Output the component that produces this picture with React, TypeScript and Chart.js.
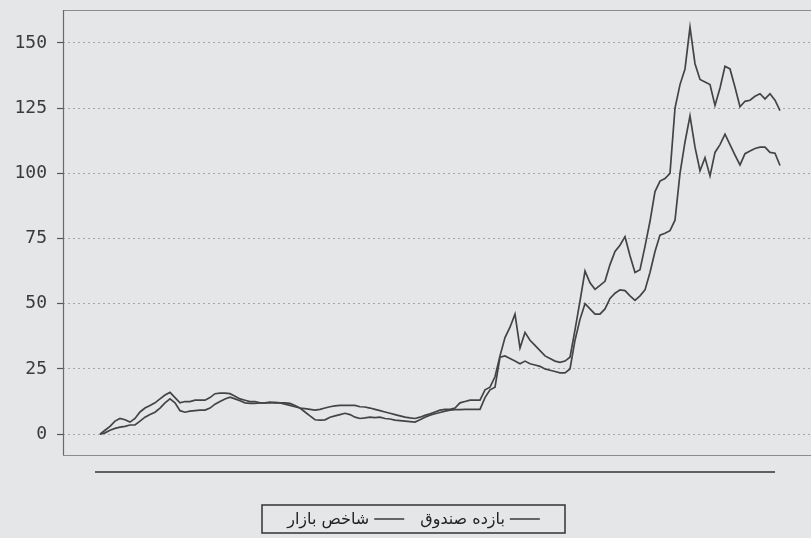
import React, { useEffect, useRef } from "react";
import { Chart, registerables } from "chart.js";

Chart.register(...registerables);

// Trading-day index (x), equally spaced
const days: number[] = Array.from({ length: 137 }, (_, i) => i);

// Series (percent)
const fundReturn: number[] = [
  0, 1.5, 3, 5, 6, 5.5, 4.6, 6, 8.5, 10,
  11, 12, 13.5, 15, 16, 14, 12, 12.5, 12.5, 13,
  13, 13, 14, 15.5, 15.7, 15.7, 15.5, 14.5, 13.5, 13,
  12.5, 12.5, 12, 12, 12.3, 12, 12, 12, 11.8, 11,
  10, 9.8, 9.5, 9.2, 9.5, 10, 10.5, 10.8, 11, 11,
  11, 11, 10.5, 10.4, 10, 9.5, 9, 8.5, 8, 7.5,
  7, 6.5, 6.2, 6, 6.5, 7.2, 7.8, 8.5, 9.2, 9.5,
  9.5, 10, 12, 12.5, 13, 13, 13, 17, 18, 22,
  30, 37, 41, 46, 33, 39, 36, 34, 32, 30,
  29, 28, 27.5, 28, 29.5, 40, 51, 62.5, 58, 55.5,
  57, 58.6, 65, 70, 72.4, 75.7, 68.4, 62, 63, 72,
  81.6, 93, 97, 98, 100, 125, 134, 140, 156, 142,
  136, 135, 134, 126, 132.7, 141, 140, 133, 125.5, 127.6,
  128, 129.5, 130.5, 128.5, 130.5, 128, 124,
];

const marketIndex: number[] = [
  0, 0.5, 1.5, 2.2, 2.7, 3, 3.5, 3.5, 5, 6.5,
  7.5, 8.4, 10, 12, 13.5, 12, 9, 8.4, 8.8, 9,
  9.2, 9.2, 10, 11.5, 12.5, 13.5, 14.2, 13.5, 12.8, 12,
  11.8, 11.8, 12, 12, 12, 12.2, 12, 11.5, 11, 10.5,
  10, 8.5, 7, 5.5, 5.4, 5.5, 6.5, 7, 7.5, 8,
  7.5, 6.5, 6, 6.2, 6.5, 6.3, 6.5, 6, 5.8, 5.4,
  5.2, 5, 4.8, 4.6, 5.5, 6.5, 7.3, 7.8, 8.3, 8.8,
  9.2, 9.4, 9.4, 9.5, 9.5, 9.5, 9.5, 14, 17, 18,
  29.5, 30, 29, 28, 27, 28, 27, 26.5, 26, 25,
  24.5, 24, 23.5, 23.5, 25, 36, 44, 50, 48, 46,
  46, 48, 52, 54, 55.3, 55, 53, 51.3, 53, 55.3,
  62, 70, 76.3, 77, 78, 82, 100, 112, 122, 110,
  101, 106, 99, 108, 111, 115, 111, 107, 103.2, 107.5,
  108.5, 109.5, 110, 110, 108, 107.7, 103,
];

const yTicks: number[] = [0, 25, 50, 75, 100, 125, 150];
const legendLabels: string[] = ["شاخص بازار", "بازده صندوق"];

const BG = "#e4e6e8";
const LINE = "#444444";

export default function App() {
  const ref = useRef<HTMLCanvasElement>(null);

  useEffect(() => {
    const canvas = ref.current;
    if (!canvas) return;

    const decor = {
      id: "decor",
      beforeDraw(chart: any) {
        const ctx = chart.ctx;
        ctx.save();
        ctx.fillStyle = BG;
        ctx.fillRect(0, 0, chart.width, chart.height);
        ctx.restore();
      },
      afterDraw(chart: any) {
        const ctx = chart.ctx;
        const a = chart.chartArea;
        ctx.save();
        ctx.setLineDash([]);
        // plot frame
        ctx.strokeStyle = "#8a8c8e";
        ctx.lineWidth = 1.2;
        ctx.beginPath();
        ctx.moveTo(a.left, a.top + 0.5);
        ctx.lineTo(chart.width, a.top + 0.5);
        ctx.moveTo(a.left, a.bottom + 0.5);
        ctx.lineTo(chart.width, a.bottom + 0.5);
        ctx.stroke();
        ctx.strokeStyle = "#6a6a6a";
        ctx.beginPath();
        ctx.moveTo(a.left + 0.5, a.top);
        ctx.lineTo(a.left + 0.5, a.bottom);
        ctx.stroke();

        // horizontal rule beneath plot
        ctx.strokeStyle = "#333";
        ctx.lineWidth = 1.6;
        ctx.beginPath();
        ctx.moveTo(a.left + 32, a.bottom + 17);
        ctx.lineTo(a.left + 712, a.bottom + 17);
        ctx.stroke();

        // legend box
        const bx = 262, by = 505, bw = 303, bh = 28;
        ctx.strokeStyle = "#333";
        ctx.lineWidth = 1.5;
        ctx.strokeRect(bx, by, bw, bh);
        ctx.font = '16px "DejaVu Sans"';
        ctx.fillStyle = "#222";
        ctx.textBaseline = "middle";
        ctx.direction = "rtl";
        ctx.textAlign = "left";
        const w1 = ctx.measureText(legendLabels[0]).width;
        const w2 = ctx.measureText(legendLabels[1]).width;
        const gap = 5, seg = 30, gap2 = 16;
        const total = w1 + gap + seg + gap2 + w2 + gap + seg;
        let x = bx + bw / 2 - total / 2;
        const cy = by + bh / 2;
        ctx.fillText(legendLabels[0], x, cy + 1);
        x += w1 + gap;
        ctx.strokeStyle = LINE;
        ctx.lineWidth = 1.6;
        ctx.beginPath();
        ctx.moveTo(x, cy);
        ctx.lineTo(x + seg, cy);
        ctx.stroke();
        x += seg + gap2;
        ctx.fillText(legendLabels[1], x, cy + 1);
        x += w2 + gap;
        ctx.beginPath();
        ctx.moveTo(x, cy);
        ctx.lineTo(x + seg, cy);
        ctx.stroke();
        ctx.restore();
      },
    };

    const chart = new Chart(canvas, {
      type: "line",
      data: {
        datasets: [
          {
            label: legendLabels[1],
            data: days.map((d, i) => ({ x: d, y: fundReturn[i] })),
            borderColor: LINE,
            borderWidth: 1.7,
            pointRadius: 0,
            tension: 0,
            fill: false,
          },
          {
            label: legendLabels[0],
            data: days.map((d, i) => ({ x: d, y: marketIndex[i] })),
            borderColor: LINE,
            borderWidth: 1.7,
            pointRadius: 0,
            tension: 0,
            fill: false,
          },
        ],
      },
      options: {
        animation: false,
        responsive: false,
        maintainAspectRatio: false,
        layout: { padding: { top: 10, bottom: 83, left: 0, right: 0 } },
        plugins: { legend: { display: false }, tooltip: { enabled: false } },
        scales: {
          x: { type: "linear", min: -7.4, max: 142.2, display: false },
          y: {
            type: "linear",
            min: -8,
            max: 162.6,
            afterFit(s: any) {
              s.width = 63;
              s.paddingTop = 0;
              s.paddingBottom = 0;
            },
            afterBuildTicks(s: any) {
              s.ticks = yTicks.map((v) => ({ value: v }));
            },
            grid: {
              color: "#a4a6a8",
              lineWidth: 1,
              drawTicks: true,
              tickLength: 6,
              tickColor: "#555",
              tickWidth: 1.2,
              tickBorderDash: [],
            },
            border: { display: false, dash: [2, 3] },
            ticks: {
              padding: 10,
              color: "#3a3a3a",
              font: { family: "DejaVu Sans Mono", size: 18 },
            },
          },
        },
      },
      plugins: [decor],
    } as any);

    return () => chart.destroy();
  }, []);

  return (
    <canvas
      ref={ref}
      width={811}
      height={538}
      style={{ position: "fixed", left: 0, top: 0, display: "block" }}
    />
  );
}
